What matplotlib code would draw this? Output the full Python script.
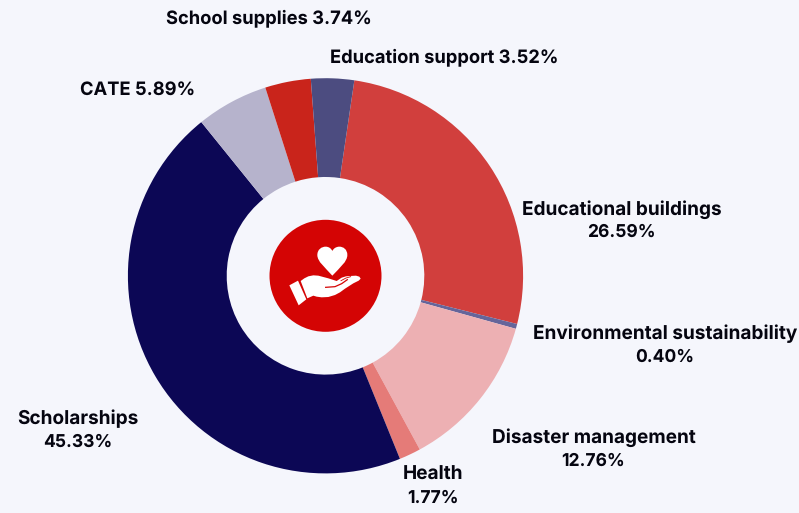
import matplotlib
matplotlib.use("Agg")
import matplotlib.pyplot as plt
from matplotlib.patches import Circle, Polygon, PathPatch
from matplotlib.path import Path

categories = ["Educational buildings", "Environmental sustainability", "Disaster management",
              "Health", "Scholarships", "CATE", "School supplies", "Education support"]
values = [26.59, 0.40, 12.76, 1.77, 45.33, 5.89, 3.74, 3.52]
colors = ["#D13F3D", "#65659A", "#EDB0B3", "#E57B78", "#0C0755", "#B6B3CC", "#C9241B", "#4C4C80"]
pct_labels = ["26.59%", "0.40%", "12.76%", "1.77%", "45.33%", "5.89%", "3.74%", "3.52%"]
two_line = [True, True, True, True, True, False, False, False]
label_px = [(621.5, 209.5), (665, 334), (593.5, 438), (433, 475), (78, 419), (137.5, 90), (269, 18.5), (444, 57)]

BG = "#F5F6FC"
INK = "#050510"
W, H = 799, 513
CX, CY, R = 325.5, 275.8, 197.6

plt.rcParams["font.family"] = ["Inter", "DejaVu Sans"]
plt.rcParams["text.hinting"] = "none"
fig = plt.figure(figsize=(W / 100, H / 100), dpi=100, facecolor=BG)
ax = fig.add_axes([0, 0, 1, 1])
ax.pie(values, colors=colors, startangle=81.6, counterclock=False, radius=R,
       center=(CX, H - CY), frame=True, wedgeprops=dict(width=R / 2, linewidth=0))
ax.set_xlim(0, W)
ax.set_ylim(0, H)
ax.set_aspect("equal")
ax.axis("off")

for name, pct, two, (x, y) in zip(categories, pct_labels, two_line, label_px):
    if two:
        ax.text(x, H - y, name, ha="center", va="center", fontsize=13.7, fontweight="bold", color=INK)
        ax.text(x, H - (y + 23), pct, ha="center", va="center", fontsize=12.6, fontweight="bold", color=INK)
    else:
        ax.text(x, H - y, f"{name} {pct}", ha="center", va="center", fontsize=13.2, fontweight="bold", color=INK)

# Centre icon (outline points measured in a 390-unit crop of the badge)
def z(p):
    return (260 + p[0] / 3, H - (210 + p[1] / 3))

ax.add_patch(Circle((CX, H - CY), 56, color="#D40404", lw=0, zorder=5))

M, C, Z = Path.MOVETO, Path.CURVE4, Path.CLOSEPOLY
heart = [(217, 197), (195, 172), (172, 155), (172, 135), (172, 118), (185, 110), (197, 110),
         (207, 110), (214, 116), (217, 123), (220, 116), (228, 110), (238, 110), (250, 110),
         (262, 118), (262, 135), (262, 155), (240, 172), (217, 197), (217, 197)]
ax.add_patch(PathPatch(Path([z(p) for p in heart], [M] + [C] * 18 + [Z]), fc="white", lw=0, zorder=6))

hand = [(122, 213), (133, 205), (145, 199), (160, 196), (175, 197), (205, 205), (230, 213),
        (245, 203), (258, 199), (270, 198), (288, 197), (298, 200), (302, 206), (296, 212),
        (280, 220), (255, 236), (240, 247), (225, 255), (205, 261), (185, 262), (170, 260),
        (160, 257), (142, 265)]
ax.add_patch(Polygon([z(p) for p in hand], fc="white", lw=0, zorder=6))
cuff = [(88, 226), (114, 212), (139, 268), (116, 286)]
ax.add_patch(Polygon([z(p) for p in cuff], fc="white", lw=0, zorder=6))
ax.plot(*zip(*[z(p) for p in [(197, 232), (225, 230), (245, 221), (262, 209)]]),
        color="#D40404", lw=0.9, zorder=7)
ax.plot(*zip(*[z(p) for p in [(243, 212), (258, 204), (272, 200)]]), color="#D40404", lw=0.6, zorder=7)

fig.savefig("out.png", dpi=100, facecolor=BG)
